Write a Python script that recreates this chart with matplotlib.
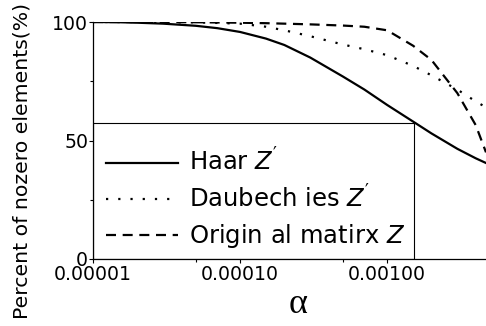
import matplotlib
matplotlib.use("Agg")
import matplotlib.pyplot as plt
from matplotlib.patches import Rectangle
from matplotlib.ticker import LogLocator, FormatStrFormatter, NullFormatter, MultipleLocator

# values
alpha = [1e-5, 1.5e-5, 2e-5, 3e-5, 5e-5, 7e-5, 1e-4, 1.5e-4, 2e-4, 3e-4,
         5e-4, 7e-4, 1e-3, 1.5e-3, 2e-3, 3e-3, 4e-3, 4.7e-3]
haar = [100, 99.9, 99.7, 99.3, 98.4, 97.4, 95.8, 93, 90.3, 85,
        77, 71.5, 65, 58, 53, 46.5, 42.5, 40.5]
daub = [100, 100, 100, 99.9, 99.8, 99.6, 99.3, 98, 96.5, 94,
        90.5, 88.5, 86, 81.5, 77.5, 71.5, 66.5, 64]
orig = [100, 100, 100, 100, 99.9, 99.8, 99.7, 99.5, 99.3, 99,
        98.5, 98, 96.5, 90, 84, 70, 56.5, 45]
labels = ["Haar $Z^{\\prime}$", "Daubech ies $Z^{\\prime}$", "Origin al matirx $Z$"]

plt.rcParams["font.family"] = "DejaVu Sans"
plt.rcParams["mathtext.fontset"] = "custom"
plt.rcParams["mathtext.it"] = "DejaVu Sans:italic"
plt.rcParams["mathtext.rm"] = "DejaVu Sans"

fig = plt.figure(figsize=(4.86, 3.26), dpi=100)
ax = fig.add_axes([93 / 486, 67 / 326, 393 / 486, 237 / 326])

ax.plot(alpha, haar, color="black", lw=1.6, ls="-", label=labels[0])
ax.plot(alpha, daub, color="black", lw=1.6, ls=(0, (1, 4.5)), label=labels[1])
ax.plot(alpha, orig, color="black", lw=1.6, ls=(0, (4.5, 3)), label=labels[2])

ax.set_xscale("log")
ax.set_xlim(1e-5, 4.7e-3)
ax.set_ylim(0, 100)
ax.xaxis.set_major_locator(LogLocator(base=10, numticks=10))
ax.xaxis.set_major_formatter(FormatStrFormatter("%.5f"))
ax.xaxis.set_minor_locator(LogLocator(base=10, subs=(5,), numticks=10))
ax.xaxis.set_minor_formatter(NullFormatter())
ax.yaxis.set_major_locator(MultipleLocator(50))
ax.yaxis.set_minor_locator(MultipleLocator(25))

for s in ("top", "right"):
    ax.spines[s].set_visible(False)
for s in ("left", "bottom"):
    ax.spines[s].set_linewidth(0.9)

ax.tick_params(which="major", direction="out", length=3, width=0.8, labelsize=13.6, pad=1.5)
ax.tick_params(which="minor", direction="out", length=2, width=0.8)
ax.tick_params(axis="y", which="major", pad=0.5)

ax.set_ylabel("Percent of nozero elements(%)", fontsize=14.7)
ax.yaxis.set_label_coords(-0.1807, 0.4135)
ax.yaxis.label.set_va("center")
ax.set_xlabel("\u03b1", fontsize=26, family="Liberation Serif")
ax.xaxis.set_label_coords(0.5216, -0.19)
ax.xaxis.label.set_va("center")

# legend box
ax.add_patch(Rectangle((0, 0), 321 / 393, 136 / 237, transform=ax.transAxes,
                       fill=False, edgecolor="black", lw=0.8, zorder=3))
leg = ax.legend(loc="center left", bbox_to_anchor=(0, 0.251), borderaxespad=0,
                fontsize=17.5, handlelength=2.96, handletextpad=0.45,
                borderpad=0.55, labelspacing=0.39, frameon=False)

fig.savefig("out.png", dpi=100)
